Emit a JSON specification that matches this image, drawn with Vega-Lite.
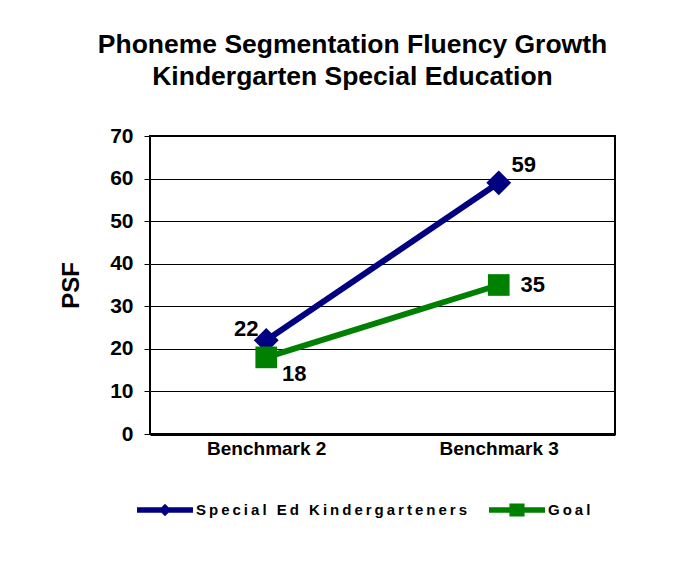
{
  "$schema": "https://vega.github.io/schema/vega-lite/v6.json",
  "width": 465,
  "height": 298,
  "autosize": {"type": "none"},
  "padding": {"left": 150, "top": 136, "right": 76, "bottom": 131},
  "background": "white",
  "title": {
    "text": ["Phoneme Segmentation Fluency Growth", "Kindergarten Special Education"],
    "font": "Liberation Sans",
    "fontSize": 26.5,
    "fontWeight": "bold",
    "color": "black",
    "anchor": "middle",
    "frame": "group",
    "dx": -30,
    "offset": 35,
    "lineHeight": 32
  },
  "data": {
    "values": [
      {"bench": "Benchmark 2", "series": "Special Ed Kindergarteners", "psf": 22},
      {"bench": "Benchmark 3", "series": "Special Ed Kindergarteners", "psf": 59},
      {"bench": "Benchmark 2", "series": "Goal", "psf": 18},
      {"bench": "Benchmark 3", "series": "Goal", "psf": 35}
    ]
  },
  "encoding": {
    "x": {
      "field": "bench",
      "type": "nominal",
      "scale": {"paddingInner": 0, "paddingOuter": 0},
      "axis": {
        "title": null,
        "labelAngle": 0,
        "ticks": false,
        "domain": true,
        "domainWidth": 3,
        "domainColor": "black",
        "grid": false,
        "labelFont": "Liberation Sans",
        "labelFontSize": 19,
        "labelFontWeight": "bold",
        "labelColor": "black",
        "labelPadding": 5
      }
    },
    "y": {
      "field": "psf",
      "type": "quantitative",
      "scale": {"domain": [0, 70], "nice": false},
      "axis": {
        "title": "PSF",
        "titleFont": "Liberation Sans",
        "titleFontSize": 24,
        "titleFontWeight": "bold",
        "titleColor": "black",
        "titlePadding": 26,
        "values": [0, 10, 20, 30, 40, 50, 60, 70],
        "grid": true,
        "gridColor": "black",
        "gridOpacity": 1,
        "gridWidth": 1,
        "domain": false,
        "tickColor": "black",
        "tickSize": 6,
        "tickWidth": 1,
        "labelFont": "Liberation Sans",
        "labelFontSize": 21,
        "labelFontWeight": "bold",
        "labelColor": "black",
        "labelPadding": 11,
        "labelFlush": false,
        "labelOverlap": false
      }
    }
  },
  "layer": [
    {
      "transform": [{"filter": "datum.series == 'Goal'"}],
      "mark": {"type": "line", "color": "#008000", "strokeWidth": 6}
    },
    {
      "transform": [{"filter": "datum.series == 'Special Ed Kindergarteners'"}],
      "mark": {"type": "line", "color": "#000080", "strokeWidth": 6}
    },
    {
      "transform": [{"filter": "datum.series == 'Special Ed Kindergarteners'"}],
      "mark": {"type": "point", "shape": "diamond", "filled": true, "color": "#000080", "size": 620, "opacity": 1}
    },
    {
      "transform": [{"filter": "datum.series == 'Goal'"}],
      "mark": {"type": "point", "shape": "square", "filled": true, "color": "#008000", "size": 470, "opacity": 1}
    },
    {
      "mark": {"type": "point", "filled": true, "opacity": 0},
      "encoding": {
        "color": {
          "field": "series",
          "type": "nominal",
          "scale": {"domain": ["Special Ed Kindergarteners", "Goal"], "range": ["#000080", "#008000"]},
          "legend": {
            "title": null,
            "orient": "none",
            "legendX": -13,
            "legendY": 346,
            "direction": "horizontal",
            "padding": 0,
            "symbolSize": 3136,
            "symbolOpacity": 1,
            "symbolStrokeWidth": 0,
            "labelOffset": 3,
            "columnPadding": 22,
            "labelFont": "Liberation Sans",
            "labelFontSize": 15,
            "labelFontWeight": "bold",
            "labelColor": "black",
            "labelLimit": 400,
            "labelExpr": "replace(datum.label, regexp('(.)(?=.)', 'g'), '$1\u2009')",
            "encode": {"symbols": {"update": {"opacity": {"value": 1}, "fillOpacity": {"value": 1}}}}
          }
        },
        "shape": {
          "field": "series",
          "type": "nominal",
          "scale": {
            "domain": ["Special Ed Kindergarteners", "Goal"],
            "range": [
              "M-1,-0.1H1V0.1H-1Z M0,-0.22L0.22,0L0,0.22L-0.22,0Z",
              "M-1,-0.1H1V0.1H-1Z M-0.27,-0.23H0.27V0.23H-0.27Z"
            ]
          }
        }
      }
    },
    {
      "transform": [{"filter": "datum.series == 'Special Ed Kindergarteners' && datum.bench == 'Benchmark 2'"}],
      "mark": {"type": "text", "dx": -20, "dy": -11, "font": "Liberation Sans", "fontSize": 22, "fontWeight": "bold", "color": "black"},
      "encoding": {"text": {"field": "psf", "type": "quantitative"}}
    },
    {
      "transform": [{"filter": "datum.series == 'Special Ed Kindergarteners' && datum.bench == 'Benchmark 3'"}],
      "mark": {"type": "text", "dx": 25, "dy": -18, "font": "Liberation Sans", "fontSize": 22, "fontWeight": "bold", "color": "black"},
      "encoding": {"text": {"field": "psf", "type": "quantitative"}}
    },
    {
      "transform": [{"filter": "datum.series == 'Goal' && datum.bench == 'Benchmark 2'"}],
      "mark": {"type": "text", "dx": 28, "dy": 17, "font": "Liberation Sans", "fontSize": 22, "fontWeight": "bold", "color": "black"},
      "encoding": {"text": {"field": "psf", "type": "quantitative"}}
    },
    {
      "transform": [{"filter": "datum.series == 'Goal' && datum.bench == 'Benchmark 3'"}],
      "mark": {"type": "text", "dx": 34, "dy": 0, "font": "Liberation Sans", "fontSize": 22, "fontWeight": "bold", "color": "black"},
      "encoding": {"text": {"field": "psf", "type": "quantitative"}}
    }
  ],
  "config": {
    "view": {"stroke": "black", "strokeWidth": 2}
  }
}
